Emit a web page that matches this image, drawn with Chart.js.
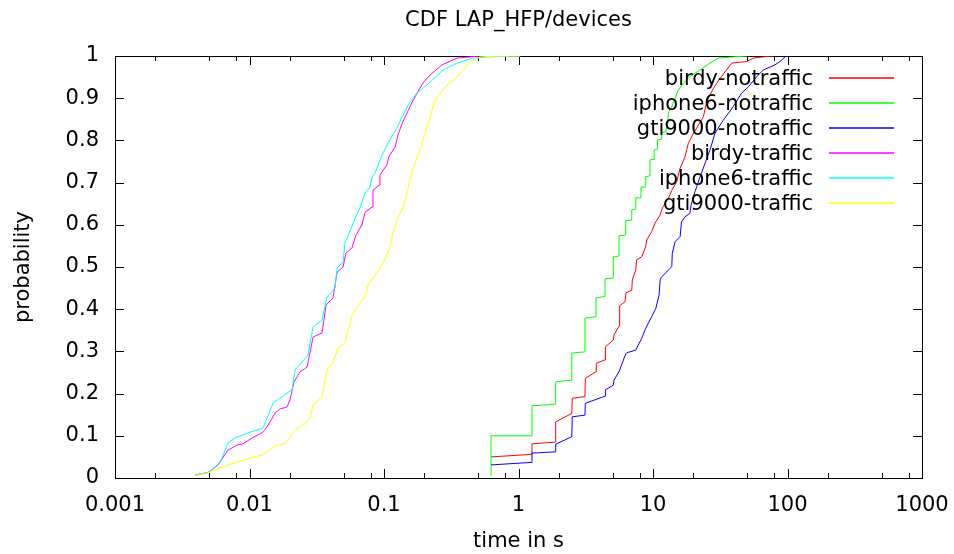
<!DOCTYPE html>
<html>
<head>
<meta charset="utf-8">
<script src="https://cdn.jsdelivr.net/npm/chart.js@4.4.0/dist/chart.umd.min.js"></script>
<style>
  html, body { margin: 0; padding: 0; background: #fff; }
</style>
</head>
<body>
<canvas id="cdf" width="954" height="554"></canvas>
<script>
// CDF samples: time in s / probability
var birdyNoX = [0.625, 1.253, 1.26, 1.87, 1.89, 2.49, 2.51, 3.12, 3.14, 3.77, 3.79, 4.40, 4.43, 5.07, 5.13, 5.59, 5.65, 6.19, 6.30, 6.95, 7.02, 7.44, 7.56, 8.24, 8.83, 8.98, 9.78, 10.35, 11.3, 11.6, 11.9, 13.2, 13.8, 15.0, 15.9, 17.3, 18.3, 19.7, 21.1, 23.7, 25.1, 28.1, 31.5, 38.5, 49.8, 55.7, 66.1, 78.4];
var birdyNoP = [0.050, 0.056, 0.081, 0.085, 0.133, 0.153, 0.189, 0.193, 0.236, 0.252, 0.272, 0.280, 0.311, 0.327, 0.339, 0.360, 0.408, 0.418, 0.439, 0.445, 0.469, 0.493, 0.517, 0.524, 0.548, 0.564, 0.584, 0.604, 0.623, 0.635, 0.643, 0.667, 0.682, 0.702, 0.734, 0.761, 0.793, 0.813, 0.829, 0.856, 0.892, 0.923, 0.947, 0.983, 0.987, 0.995, 0.998, 1.0];

var iphoneNoX = [0.625, 0.625, 1.259, 1.259, 1.89, 1.89, 2.49, 2.49, 3.12, 3.12, 3.77, 3.77, 4.40, 4.40, 5.07, 5.07, 5.59, 5.59, 6.27, 6.27, 6.95, 6.95, 7.44, 7.44, 8.14, 8.14, 8.83, 8.83, 9.5, 9.5, 10.2, 10.2, 10.8, 10.8, 11.6, 11.6, 12.5, 12.8, 13.1, 13.8, 14.6, 15.4, 16.8, 18.8, 22.4, 26.5, 30.6, 39.5, 49.8];
var iphoneNoP = [0.005, 0.1, 0.1, 0.171, 0.175, 0.228, 0.232, 0.296, 0.299, 0.379, 0.382, 0.427, 0.430, 0.472, 0.474, 0.524, 0.526, 0.574, 0.576, 0.610, 0.611, 0.635, 0.637, 0.664, 0.664, 0.689, 0.690, 0.714, 0.716, 0.754, 0.755, 0.777, 0.779, 0.801, 0.803, 0.818, 0.821, 0.844, 0.868, 0.880, 0.900, 0.919, 0.935, 0.951, 0.967, 0.983, 0.995, 0.998, 1.0];

var gtiNoX = [0.625, 1.253, 1.26, 1.89, 1.89, 2.49, 2.51, 3.12, 3.14, 4.40, 4.43, 5.07, 5.13, 5.59, 6.27, 6.40, 7.44, 8.24, 8.83, 9.78, 10.5, 11.1, 11.3, 11.5, 13.4, 13.8, 13.9, 14.6, 15.9, 16.3, 17.3, 18.8, 19.2, 20.5, 22.4, 24.4, 26.5, 28.9, 33.3, 39.5, 45.6, 51.2, 59.0, 66.1, 80.7, 88.0, 95.8, 100];
var gtiNoP = [0.031, 0.037, 0.059, 0.062, 0.080, 0.098, 0.145, 0.149, 0.177, 0.194, 0.209, 0.220, 0.232, 0.252, 0.294, 0.297, 0.303, 0.331, 0.355, 0.382, 0.402, 0.434, 0.469, 0.475, 0.497, 0.501, 0.532, 0.560, 0.572, 0.607, 0.619, 0.627, 0.647, 0.678, 0.714, 0.746, 0.777, 0.817, 0.848, 0.880, 0.912, 0.927, 0.951, 0.967, 0.979, 0.987, 0.998, 1.0];

var birdyTrX = [0.00394, 0.00491, 0.00583, 0.00692, 0.00807, 0.00895, 0.01045, 0.0124, 0.0135, 0.0155, 0.0169, 0.0190, 0.0200, 0.0214, 0.0237, 0.0268, 0.0297, 0.0346, 0.0371, 0.0418, 0.0448, 0.0496, 0.0521, 0.0578, 0.0619, 0.0686, 0.0723, 0.0815, 0.0828, 0.0918, 0.0933, 0.105, 0.109, 0.121, 0.127, 0.138, 0.161, 0.176, 0.195, 0.220, 0.270, 0.349, 0.435, 0.518];
var birdyTrP = [0.007, 0.013, 0.031, 0.066, 0.078, 0.081, 0.095, 0.107, 0.121, 0.154, 0.164, 0.168, 0.185, 0.227, 0.251, 0.263, 0.334, 0.344, 0.410, 0.427, 0.488, 0.500, 0.533, 0.545, 0.576, 0.600, 0.630, 0.642, 0.682, 0.694, 0.718, 0.742, 0.763, 0.784, 0.813, 0.844, 0.889, 0.912, 0.936, 0.955, 0.979, 0.995, 0.998, 1.0];

var iphoneTrX = [0.00394, 0.00491, 0.00604, 0.00692, 0.0078, 0.00975, 0.0126, 0.0150, 0.0190, 0.0207, 0.0218, 0.0272, 0.0297, 0.0346, 0.0377, 0.0432, 0.0448, 0.0496, 0.0513, 0.0589, 0.0664, 0.0723, 0.0787, 0.0815, 0.0857, 0.0966, 0.1035, 0.1127, 0.125, 0.136, 0.156, 0.176, 0.220, 0.275, 0.349, 0.459, 0.614, 1.03];
var iphoneTrP = [0.007, 0.013, 0.036, 0.083, 0.095, 0.107, 0.118, 0.178, 0.201, 0.209, 0.256, 0.291, 0.358, 0.374, 0.429, 0.450, 0.498, 0.512, 0.557, 0.604, 0.642, 0.675, 0.690, 0.713, 0.723, 0.765, 0.784, 0.806, 0.829, 0.855, 0.891, 0.912, 0.938, 0.967, 0.983, 0.995, 0.998, 1.0];

var gtiTrX = [0.00394, 0.00491, 0.00604, 0.00807, 0.0101, 0.0126, 0.0155, 0.0184, 0.0218, 0.0259, 0.0282, 0.0297, 0.0346, 0.0377, 0.0418, 0.0455, 0.0513, 0.0540, 0.0589, 0.0664, 0.0723, 0.0760, 0.0887, 0.0984, 0.111, 0.117, 0.127, 0.138, 0.151, 0.161, 0.185, 0.209, 0.228, 0.239, 0.294, 0.349, 0.435, 0.518, 0.767, 1.03];
var gtiTrP = [0.005, 0.012, 0.024, 0.038, 0.047, 0.055, 0.076, 0.081, 0.114, 0.130, 0.142, 0.173, 0.192, 0.256, 0.273, 0.308, 0.320, 0.351, 0.391, 0.415, 0.429, 0.457, 0.488, 0.509, 0.547, 0.583, 0.618, 0.640, 0.687, 0.725, 0.777, 0.832, 0.872, 0.896, 0.931, 0.950, 0.986, 0.998, 1.0, 1.0];

var seriesNames = ["birdy-notraffic", "iphone6-notraffic", "gti9000-notraffic", "birdy-traffic", "iphone6-traffic", "gti9000-traffic"];
var seriesColors = ["#ff0000", "#00ff00", "#0000ff", "#ff00ff", "#00ffff", "#ffff00"];
var seriesX = [birdyNoX, iphoneNoX, gtiNoX, birdyTrX, iphoneTrX, gtiTrX];
var seriesP = [birdyNoP, iphoneNoP, gtiNoP, birdyTrP, iphoneTrP, gtiTrP];

var xTicks = [0.001, 0.01, 0.1, 1, 10, 100, 1000];
var xMinorSteps = [2, 5, 8];

var FONT = "DejaVu Sans";

function pairs(xs, ps) {
  var out = [];
  for (var i = 0; i < xs.length; i++) out.push({x: xs[i], y: ps[i]});
  return out;
}

var datasets = seriesNames.map(function (name, i) {
  return {
    label: name,
    data: pairs(seriesX[i], seriesP[i]),
    borderColor: seriesColors[i],
    backgroundColor: seriesColors[i],
    borderWidth: 1,
    pointRadius: 0,
    tension: 0,
    fill: false,
    order: seriesNames.length - i   // later series on top, like gnuplot
  };
});

// border box with inward ticks on all four sides
var frame = {
  id: "frame",
  beforeDatasetsDraw: function (chart) {
    var ctx = chart.ctx, a = chart.chartArea;
    var xs = chart.scales.x, ys = chart.scales.y;
    ctx.save();
    ctx.strokeStyle = "#000";
    ctx.lineWidth = 1;
    ctx.beginPath();
    function xtick(v, len) {
      var px = Math.round(xs.getPixelForValue(v)) + 0.5;
      ctx.moveTo(px, a.bottom); ctx.lineTo(px, a.bottom - len);
      ctx.moveTo(px, a.top); ctx.lineTo(px, a.top + len);
    }
    xTicks.forEach(function (v, i) {
      xtick(v, 9);
      if (i < xTicks.length - 1) xMinorSteps.forEach(function (m) { xtick(v * m, 5); });
    });
    for (var k = 0; k <= 10; k++) {
      var py = Math.round(ys.getPixelForValue(k / 10)) + 0.5;
      ctx.moveTo(a.left, py); ctx.lineTo(a.left + 9, py);
      ctx.moveTo(a.right, py); ctx.lineTo(a.right - 9, py);
    }
    ctx.stroke();
    ctx.strokeRect(Math.round(a.left) + 0.5, Math.round(a.top) + 0.5,
                   Math.round(a.right - a.left), Math.round(a.bottom - a.top));
    ctx.restore();
  },
  afterDraw: function (chart) {
    var ctx = chart.ctx, a = chart.chartArea;
    var cx = (a.left + a.right) / 2;
    ctx.save();
    ctx.fillStyle = "#000";
    ctx.font = "21px '" + FONT + "'";
    ctx.textBaseline = "alphabetic";
    ctx.textAlign = "center";
    ctx.fillText("CDF LAP_HFP/devices", cx, 26);
    ctx.fillText("time in s", cx, 547);
    ctx.save();
    ctx.translate(29, (a.top + a.bottom) / 2);
    ctx.rotate(-Math.PI / 2);
    ctx.fillText("probability", 0, 0);
    ctx.restore();
    // key, top right, text right-aligned with sample line after it
    chart.data.datasets.forEach(function (ds, i) {
      var base = Math.round(85 + i * 24.9);
      ctx.textAlign = "right";
      ctx.fillText(ds.label, 813, base);
      ctx.strokeStyle = ds.borderColor;
      ctx.lineWidth = 1.5;
      ctx.beginPath();
      ctx.moveTo(829, base - 7);
      ctx.lineTo(894, base - 7);
      ctx.stroke();
    });
    ctx.restore();
  }
};

new Chart("cdf", {
  type: "line",
  data: { datasets: datasets },
  plugins: [frame],
  options: {
    responsive: false,
    devicePixelRatio: 1,
    animation: false,
    layout: { padding: { top: 56, right: 32, left: 0, bottom: 0 } },
    plugins: {
      legend: { display: false },
      title: { display: false },
      tooltip: { enabled: false }
    },
    scales: {
      x: {
        type: "logarithmic",
        min: 0.001,
        max: 1000,
        afterFit: function (s) { s.height = 76; s.paddingLeft = 0; s.paddingRight = 0; },
        afterBuildTicks: function (s) {
          s.ticks = xTicks.map(function (v) { return {value: v}; });
        },
        grid: { display: false, drawTicks: false },
        border: { display: false },
        ticks: {
          autoSkip: false,
          maxRotation: 0,
          padding: 15,
          color: "#000",
          font: { family: FONT, size: 21 },
          callback: function (v) { return String(v); }
        }
      },
      y: {
        min: 0,
        max: 1,
        afterFit: function (s) { s.width = 115; s.paddingTop = 0; s.paddingBottom = 0; },
        grid: { display: false, drawTicks: false },
        border: { display: false },
        ticks: {
          stepSize: 0.1,
          padding: 16,
          color: "#000",
          font: { family: FONT, size: 21 },
          callback: function (v) { return String(Math.round(v * 10) / 10); }
        }
      }
    }
  }
});
</script>
</body>
</html>
